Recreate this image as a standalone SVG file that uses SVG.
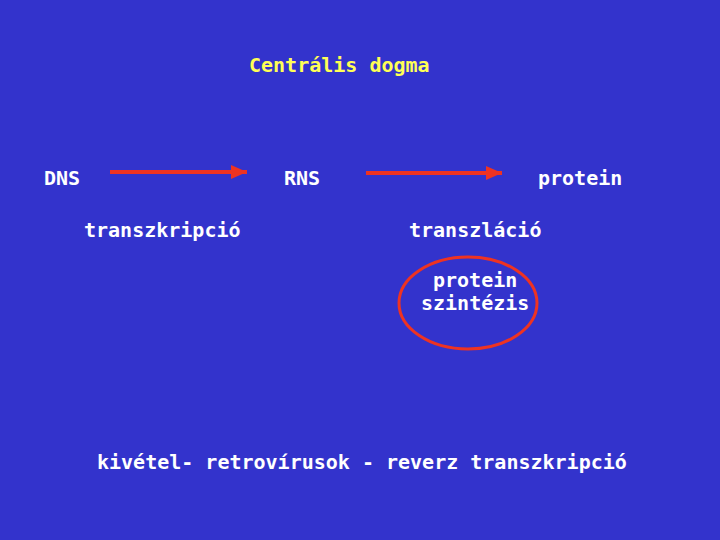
<svg xmlns="http://www.w3.org/2000/svg" width="720" height="540" viewBox="0 0 720 540">
<defs>
<style>
text{font-family:"DejaVu Sans Mono","Liberation Mono",monospace;font-size:20px;font-weight:bold;fill:#ffffff}
.title{fill:#ffff55}
.arrow{stroke:#ee3322;stroke-width:4;fill:none}
</style>
<marker id="ah" markerWidth="16" markerHeight="16" refX="16" refY="8" orient="auto" markerUnits="userSpaceOnUse">
<path d="M0,1 L16,8 L0,15 Z" fill="#ee3322"/>
</marker>
</defs>
<rect width="720" height="540" fill="#3333cc"/>
<text class="title" x="249" y="72">Centrális dogma</text>
<g id="dns"><text x="44" y="185">DNS</text></g>
<g id="rns"><text x="284" y="185">RNS</text></g>
<g id="protein"><text x="538" y="185">protein</text></g>
<g id="proteinszintezis">
<ellipse cx="468" cy="303" rx="69" ry="46" fill="none" stroke="#ee3322" stroke-width="3"/>
<text x="433" y="287">protein</text>
<text x="421" y="310">szintézis</text>
</g>
<g id="connectors">
<line class="arrow" x1="110" y1="172" x2="247" y2="172" marker-end="url(#ah)"/>
<text x="84" y="237">transzkripció</text>
<line class="arrow" x1="366" y1="173" x2="502" y2="173" marker-end="url(#ah)"/>
<text x="409" y="237">transzláció</text>
</g>
<text x="97" y="469">kivétel- retrovírusok - reverz transzkripció</text>
</svg>
